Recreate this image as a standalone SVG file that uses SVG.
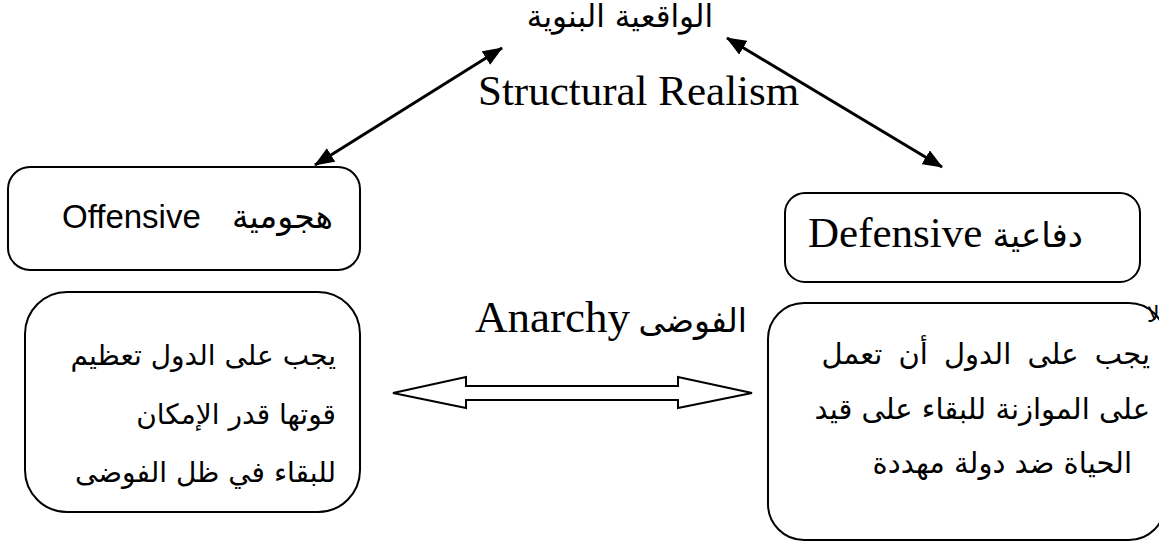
<svg xmlns="http://www.w3.org/2000/svg" width="1159" height="544" viewBox="0 0 1159 544">
<defs>
<marker id="ah" viewBox="0 0 20 16" refX="19" refY="8" markerWidth="20" markerHeight="16" markerUnits="userSpaceOnUse" orient="auto-start-reverse">
<path d="M0,0 L20,8 L0,16 z" fill="#000"/>
</marker>
<style>
.box{fill:#fff;stroke:#000;stroke-width:2}
.tnr{font-family:"Liberation Serif","DejaVu Sans",serif;fill:#000}
.ar{font-family:"DejaVu Sans","Liberation Sans",sans-serif;fill:#000}
.ars{font-family:"Liberation Sans","DejaVu Sans",sans-serif;fill:#000}
.line{stroke:#000;stroke-width:3;fill:none;marker-start:url(#ah);marker-end:url(#ah)}
</style>
</defs>
<rect width="1159" height="544" fill="#fff"/>
<g id="connectors">
<line class="line" x1="315" y1="165" x2="502" y2="48"/>
<line class="line" x1="727" y1="38" x2="942" y2="167"/>
<polygon points="393,393 466,377 466,386 678,386 678,377 752,393 678,408 678,400 466,400 466,408" fill="#fff" stroke="#000" stroke-width="2"/>
</g>
<g id="title">
<text class="ar" x="620" y="27" font-size="31" text-anchor="middle">الواقعية البنوية</text>
<text class="tnr" x="478" y="105" font-size="43">Structural Realism</text>
</g>
<g id="offensive">
<rect class="box" x="8" y="167" width="352" height="103" rx="22"/>
<text class="ars" x="62" y="228" font-size="33">Offensive</text>
<text class="ar" x="333" y="228" font-size="33" text-anchor="end">هجومية</text>
</g>
<g id="defensive">
<rect class="box" x="785" y="193" width="355" height="89" rx="20"/>
<text class="tnr" x="808" y="247" font-size="43">Defensive</text>
<text class="ar" x="1083" y="247" font-size="34" text-anchor="end">دفاعية</text>
</g>
<g id="anarchy">
<text class="tnr" x="475" y="332" font-size="45">Anarchy</text>
<text class="ar" x="747" y="332" font-size="33" text-anchor="end">الفوضى</text>
</g>
<g id="offensive-desc">
<rect class="box" x="25" y="292" width="335" height="220" rx="42"/>
<text class="ar" x="336" y="365" font-size="28" text-anchor="end">يجب على الدول تعظيم</text>
<text class="ar" x="336" y="424" font-size="28" text-anchor="end">قوتها قدر الإمكان</text>
<text class="ar" x="336" y="482" font-size="28" text-anchor="end">للبقاء في ظل الفوضى</text>
</g>
<g id="defensive-desc">
<rect class="box" x="768" y="303" width="397" height="237" rx="36"/>
<text class="ar" x="1150" y="364" font-size="29" text-anchor="end" word-spacing="7">يجب على الدول أن تعمل</text>
<text class="ar" x="1150" y="419" font-size="29" text-anchor="end">على الموازنة للبقاء على قيد</text>
<text class="ar" x="1132" y="473" font-size="29" text-anchor="end">الحياة ضد دولة مهددة</text>
<text class="ar" x="1147" y="322" font-size="22">لا</text>
</g>
</svg>
